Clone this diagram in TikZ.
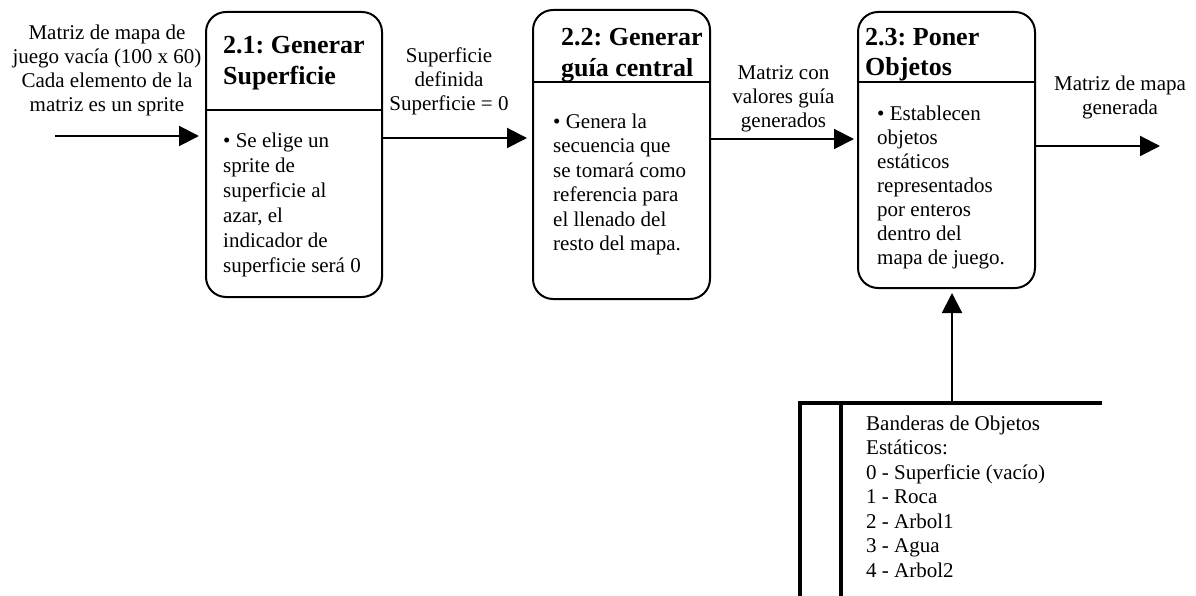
\documentclass[tikz,border=0pt]{standalone}
\usepackage{fontspec}
\setmainfont{Liberation Serif}
\usetikzlibrary{arrows.meta}
\frenchspacing

\begin{document}
\begin{tikzpicture}[x=1pt,y=-1pt,
  proc/.style={draw, line width=2pt, rounded corners=20pt, inner sep=0pt},
  split/.style={line width=1.5pt},
  flow/.style={line width=2pt, -{Triangle[length=20pt,width=20pt]}},
  ttl/.style={anchor=base west, inner sep=0pt, align=left,
    font=\fontsize{26}{31}\selectfont\bfseries},
  txt/.style={anchor=base west, inner sep=0pt, align=left,
    font=\fontsize{21}{24.5}\selectfont},
  lbl/.style={anchor=base, inner sep=0pt, align=center,
    font=\fontsize{21}{24}\selectfont},
  store/.style={line width=3.5pt}]

\useasboundingbox (0,0) rectangle (1196,596);

% process boxes
\node[proc, minimum width=176pt, minimum height=285pt] (b1) at (294,154.5) {};
\node[proc, minimum width=177pt, minimum height=289pt] (b2) at (621.5,154.5) {};
\node[proc, minimum width=177pt, minimum height=276pt] (b3) at (946.5,150) {};

\draw[split] (b1.west |- 0,110) -- (b1.east |- 0,110);
\draw[split] (b2.west |- 0,82) -- (b2.east |- 0,82);
\draw[split] (b3.west |- 0,82) -- (b3.east |- 0,82);

% box titles (placed by the baseline of their last line)
\node[ttl] (t1) at (223,85) {2.1: Generar\\Superficie};
\node[ttl] (t2) at (561,77) {2.2: Generar\\guía central};
\node[ttl, font=\fontsize{26}{30}\selectfont\bfseries] (t3) at (865,76) {2.3: Poner\\Objetos};

% box contents
\node[txt, font=\fontsize{21}{25}\selectfont] (d1) at (223,272)
  {• Se elige un\\sprite de\\superficie al\\azar, el\\indicador de\\superficie será 0};
\node[txt] (d2) at (553,250.5)
  {• Genera la\\secuencia que\\se tomará como\\referencia para\\el llenado del\\resto del mapa.};
\node[txt, font=\fontsize{21}{24}\selectfont] (d3) at (877,264)
  {• Establecen\\objetos\\estáticos\\representados\\por enteros\\dentro del\\mapa de juego.};

% flow labels
\node[lbl] (l1) at (107,112)
  {Matriz de mapa de\\juego vacía (100 x 60)\\Cada elemento de la\\matriz es un sprite};
\node[lbl] (l2) at (449,111) {Superficie\\definida\\Superficie = 0};
\node[lbl] (l3) at (783.5,128) {Matriz con\\valores guía\\generados};
\node[lbl] (l4) at (1120,115) {Matriz de mapa\\generada};

% data flows
\coordinate (in) at (55,136);
\coordinate (out) at (1160,146);
\draw[flow, shorten >=6pt] (in) -- (b1.west |- in);
\draw[flow, shorten >=5pt] (b1.east |- 0,138) -- (b2.west |- 0,138);
\draw[flow, shorten >=3pt] (b2.east |- 0,139) -- (b3.west |- 0,139);
\draw[flow] (b3.east |- out) -- (out);

% data store
\coordinate (ds) at (952,403);
\draw[store] (800,600) -- (800,403) -- (1102,403);
\draw[store] (841,403) -- (841,600);
\node[txt] (st) at (866,577)
  {Banderas de Objetos\\Estáticos:\\0 - Superficie (vacío)\\1 - Roca\\2 - Arbol1\\3 - Agua\\4 - Arbol2};
\draw[flow, shorten >=4pt] (ds) -- (ds |- b3.south);

\end{tikzpicture}
\end{document}
